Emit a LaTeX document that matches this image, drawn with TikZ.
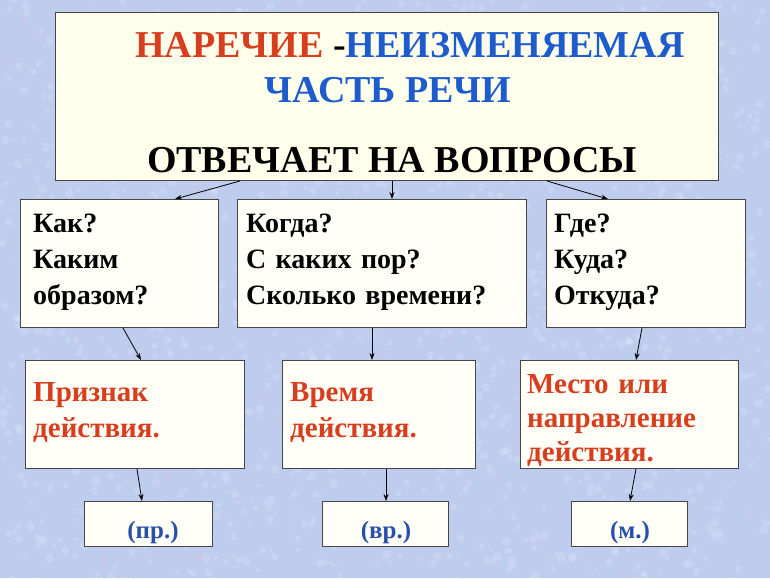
\documentclass[tikz,border=0pt]{standalone}
\usepackage{fontspec}
\setmainfont{Liberation Serif}
\usetikzlibrary{arrows.meta}
\definecolor{fon}{RGB}{190,205,238}
\definecolor{fonsv}{RGB}{222,230,250}
\definecolor{fonroz}{RGB}{212,196,232}
\definecolor{ramka}{RGB}{70,70,70}
\definecolor{list}{RGB}{255,255,248}
\definecolor{listtop}{RGB}{255,255,236}
\definecolor{krasn}{RGB}{214,62,30}
\definecolor{sin}{RGB}{30,92,205}
\definecolor{sin2}{RGB}{40,80,170}
\tikzset{
	box/.style={draw=ramka,line width=1pt,fill=list,anchor=north west,inner sep=0pt},
	vopr/.style={anchor=base west,align=left,inner sep=0pt,font=\bfseries\fontsize{28}{36}\selectfont},
	znach/.style={anchor=base west,align=left,inner sep=0pt,text=krasn,font=\bfseries\fontsize{29}{36.5}\selectfont},
	razr/.style={anchor=base,inner sep=0pt,text=sin2,font=\bfseries\fontsize{25}{30}\selectfont},
	strel/.style={line width=0.8pt,-{Stealth[length=7pt,width=5pt]}}
}
\begin{document}
\begin{tikzpicture}[x=1pt,y=-1pt]
			\useasboundingbox (0,0) rectangle (770,578);
			\fill[fon] (0,0) rectangle (770,578);
			% pjatnistyj fon
			\begin{scope}
				\clip (0,0) rectangle (770,578);
				\pgfmathsetseed{12}
				\foreach \i in {1,...,1500}{
					\pgfmathsetmacro\px{rnd*770}
					\pgfmathsetmacro\py{rnd*578}
					\fill[fonsv,opacity=0.3] (\px,\py) circle (1.5pt+rnd*3pt);
					\pgfmathsetmacro\qx{rnd*770}
					\pgfmathsetmacro\qy{rnd*578}
					\fill[fonroz,opacity=0.3] (\qx,\qy) circle (1pt+rnd*2.5pt);
				}
			\end{scope}

			\node(top)	[box,fill=listtop,minimum width=663pt,minimum height=168pt] at (55,12) {};
			\node(t1)	[anchor=base west,inner sep=0pt,font=\bfseries\fontsize{38}{44}\selectfont] at (135,58)
				{\textcolor{krasn}{НАРЕЧИЕ} -\textcolor{sin}{НЕИЗМЕНЯЕМАЯ}};
			\node(t2)	[anchor=base,inner sep=0pt,text=sin,font=\bfseries\fontsize{38}{44}\selectfont] at (388,102) {ЧАСТЬ РЕЧИ};
			\node(t3)	[anchor=base,inner sep=0pt,font=\bfseries\fontsize{38}{44}\selectfont] at (392,172) {ОТВЕЧАЕТ НА ВОПРОСЫ};

			\node(kak)	[box,minimum width=198pt,minimum height=128pt] at (20,199) {};
			\node(kogda)	[box,minimum width=289pt,minimum height=128pt] at (237,199) {};
			\node(gde)	[box,minimum width=199pt,minimum height=128pt] at (546,199) {};
			\node(kakt)	[vopr,text width=180pt] at (33,232) {Как?\\Каким\\образом?};
			\node(kogdat)	[vopr,text width=280pt] at (246,232) {Когда?\\С каких пор?\\Сколько времени?};
			\node(gdet)	[vopr,text width=180pt] at (554,232) {Где?\\Куда?\\Откуда?};

			\node(priz)	[box,minimum width=219pt,minimum height=108pt] at (25,360) {};
			\node(vrem)	[box,minimum width=193pt,minimum height=108pt] at (282,360) {};
			\node(mesto)	[box,minimum width=218pt,minimum height=108pt] at (520,360) {};
			\node(prizt)	[znach,text width=210pt] at (33,401) {Признак\\действия.};
			\node(vremt)	[znach,text width=185pt] at (290,401) {Время\\действия.};
			\node(mestot)	[znach,text width=215pt,font=\bfseries\fontsize{29}{34}\selectfont] at (527,393) {Место или\\направление\\действия.};

			\node(pr)	[box,minimum width=128pt,minimum height=45pt] at (84,501) {};
			\node(vr)	[box,minimum width=126pt,minimum height=45pt] at (322,501) {};
			\node(m)	[box,minimum width=116pt,minimum height=45pt] at (571,501) {};
			\node(prt)	[razr] at (153,538) {(пр.)};
			\node(vrt)	[razr] at (386,538) {(вр.)};
			\node(mt)	[razr] at (630,538) {(м.)};

			\draw[strel]([xshift=185pt]top.south west) -- ([xshift=155pt]kak.north west);
			\draw[strel]([xshift=337pt]top.south west) -- ([xshift=155pt]kogda.north west);
			\draw[strel]([xshift=492pt]top.south west) -- ([xshift=62pt]gde.north west);
			\draw[strel]([xshift=103pt]kak.south west) -- ([xshift=116pt]priz.north west);
			\draw[strel]([xshift=135pt]kogda.south west) -- ([xshift=90pt]vrem.north west);
			\draw[strel]([xshift=96pt]gde.south west) -- ([xshift=116pt]mesto.north west);
			\draw[strel]([xshift=112pt]priz.south west) -- ([xshift=58pt]pr.north west);
			\draw[strel]([xshift=104pt]vrem.south west) -- ([xshift=64pt]vr.north west);
			\draw[strel]([xshift=116pt]mesto.south west) -- ([xshift=59pt]m.north west);
		\end{tikzpicture}
\end{document}
